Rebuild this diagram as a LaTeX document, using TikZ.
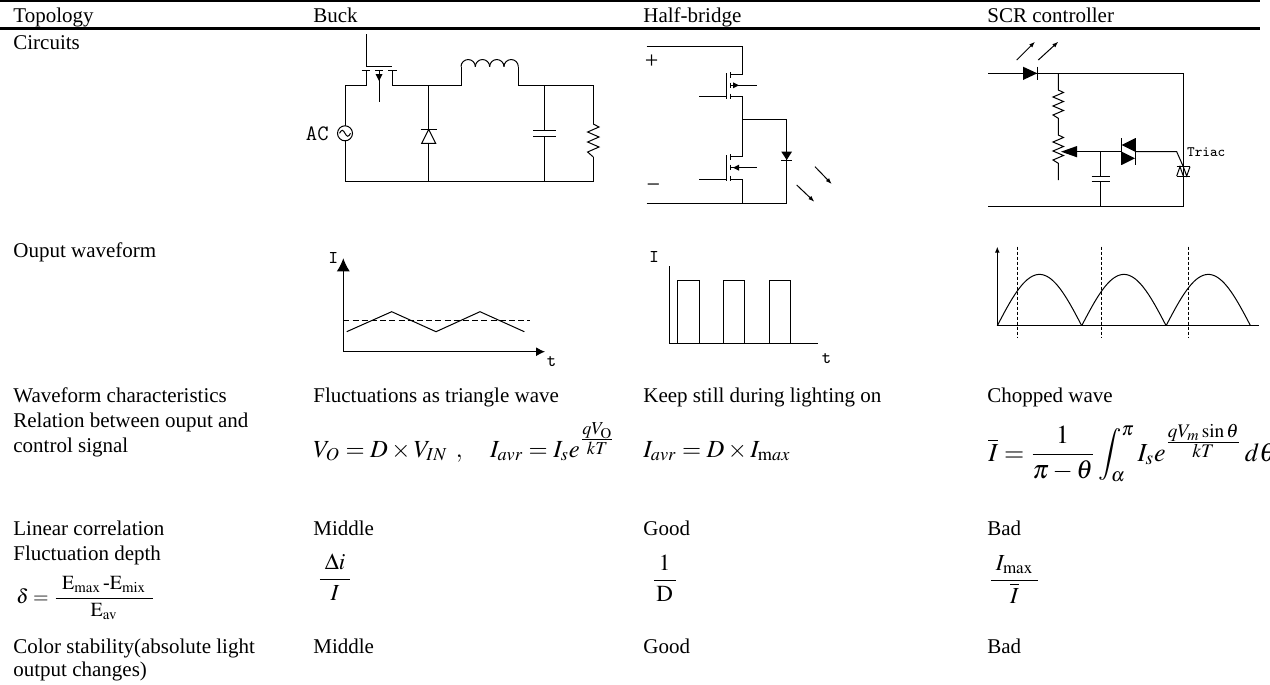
\documentclass[tikz,border=0pt]{standalone}
\usepackage{amsmath}
\usepackage{mathptmx}
\usepackage[no-math]{fontspec}
\setmainfont{Liberation Serif}
\usepackage{tikz}
\usetikzlibrary{arrows.meta}
\usetikzlibrary{calc}

\begin{document}
\begin{tikzpicture}[x=0.5pt, y=-0.5pt, every node/.style={inner sep=0pt},
    txt/.style={anchor=base west, font=\fontsize{10.5}{12}\selectfont},
    eq/.style={anchor=base west, font=\fontsize{12.3}{14}\selectfont},
    mono/.style={font=\ttfamily\fontsize{9}{10}\selectfont},
    wire/.style={line width=0.5pt},
    tip/.style={-{Latex[length=3pt,width=2.2pt]}, line width=0.5pt}]
            \useasboundingbox (0,0) rectangle (1270,685);

            \draw[line width=0.7pt] (0,1) -- (1260,1);
            \node[txt] (topo) at (13,23) {Topology};
            \node[txt] (hbuck) at (313,23) {Buck};
            \node[txt] (hhalf) at (643,23) {Half-bridge};
            \node[txt] (hscr) at (987,23) {SCR controller};
            \draw[line width=1.3pt] (0,28.5) -- (1260,28.5);

            \node[txt] (circ) at (13,49) {Circuits};
            \node[txt] (wave) at (13,257) {Ouput waveform};
            \node[txt] (wchar) at (13,402) {Waveform characteristics};
            \node[txt] (rel) at (13,427) {Relation between ouput and};
            \node[txt] (rel2) at (13,452) {control signal};
            \node[txt] (lin) at (13,535) {Linear correlation};
            \node[txt] (fdep) at (13,560) {Fluctuation depth};
            \node[anchor=base west, font=\fontsize{10}{12}\selectfont] (delta) at (16,603)
                {$\delta = \dfrac{\;\,\mathrm{E}_{\mathrm{max}}\,\text{-}\mathrm{E}_{\mathrm{mix}}\;\,}{\mathrm{E}_{\mathrm{av}}}$};
            \node[txt] (col) at (13,653) {Color stability(absolute light};
            \node[txt] (col2) at (13,676) {output changes)};

            \node[txt] (bwc) at (313,402) {Fluctuations as triangle wave};
            \node[eq] (bform) at (313,457) {$V_O = D\times V_{IN}\;\,,\quad I_{avr} = I_s e^{\genfrac{}{}{0.4pt}{1}{qV_{\mathrm{O}}}{kT}}$};
            \node[txt] (blin) at (313,535) {Middle};
            \node[anchor=base west, font=\fontsize{11.5}{13}\selectfont] (bdep) at (317,585) {$\dfrac{\;\Delta i\;}{I}$};
            \node[txt] (bcol) at (313,653) {Middle};

            \node[txt] (hwc) at (643,402) {Keep still during lighting on};
            \node[eq] (hform) at (643,457) {$I_{avr} = D\times I_{\mathrm{m}ax}$};
            \node[txt] (hlin) at (643,535) {Good};
            \node[anchor=base west, font=\fontsize{11.5}{13}\selectfont] (hdep) at (651,586) {$\dfrac{\;1\;}{\mathrm{D}}$};
            \node[txt] (hcol) at (643,653) {Good};

            \node[txt] (swc) at (987,402) {Chopped wave};
            \node[anchor=base west, font=\fontsize{13}{15}\selectfont] (sform) at (988,461)
                {$\overline{I} = \dfrac{1}{\pi-\theta}\displaystyle\int_{\alpha}^{\pi} I_s e^{\genfrac{}{}{0.4pt}{1}{qV_m\sin\theta}{kT}}\, d\theta$};
            \node[txt] (slin) at (987,535) {Bad};
            \node[anchor=base west, font=\fontsize{11.5}{13}\selectfont] (sdep) at (988,586) {$\dfrac{\;I_{\mathrm{max}}\;}{\overline{I}}$};
            \node[txt] (scol) at (987,653) {Bad};

            % buck
            \draw[wire] (366,34) -- (366,66.7) -- (392.3,66.7);
            \draw[wire] (361.7,70) -- (370,70) (375,70) -- (383,70) (388.3,70) -- (396.7,70);
            \draw[wire] (366,70) -- (366,85) -- (345,85) -- (345,181.7) -- (593.3,181.7) -- (593.3,157);
            \draw[wire] (379,70) -- (379,101.7);
            \fill (375.5,74) -- (382.5,74) -- (379,81) -- cycle;
            \draw[wire] (392.7,70) -- (392.7,85) -- (461,85) -- (461,66.7);
            \foreach \i in {0,...,3}
                \draw[wire] ({461+\i*14.33},66.7) arc (180:360:7.165);
            \draw[wire] (518.3,66.7) -- (518.3,85) -- (593.3,85) -- (593.3,124);
            \draw[wire] (593.3,124) -- (599,127) -- (587.6,132) -- (599,137) -- (587.6,142) -- (599,147) -- (587.6,152) -- (593.3,157);
            \draw[wire] (428.7,85) -- (428.7,181.7);
            \draw[wire, fill=white] (421.7,143.3) -- (435.7,143.3) -- (428.7,129.3) -- cycle;
            \draw[wire] (420.7,129.3) -- (436.7,129.3);
            \draw[wire] (544.3,85) -- (544.3,130) (533,130) -- (556,130) (533,136.7) -- (556,136.7) (544.3,136.7) -- (544.3,181.7);
            \draw[wire, fill=white] (345,133.3) circle[radius=7.5];
            \draw[wire] (339.5,133.3) sin (342.25,130.3) cos (345,133.3) sin (347.75,136.3) cos (350.5,133.3);
            \node[mono, font=\ttfamily\fontsize{11}{12}\selectfont, anchor=east] (ac) at (329,133.3) {AC};

            % half-bridge
            \draw[wire] (646.7,46) -- (742.3,46) -- (742.3,74.3) -- (730,74.3);
            \node[font=\fontsize{12}{12}\selectfont] (plus) at (651.7,61.7) {+};
            \draw[wire] (730,72) -- (730,77.5) (730,82.5) -- (730,88) (730,93.5) -- (730,99);
            \draw[wire] (726.7,73) -- (726.7,99);
            \draw[wire] (699,96.7) -- (726.7,96.7);
            \draw[wire] (730,85.3) -- (756.7,85.3);
            \fill (733,82.3) -- (733,88.3) -- (739,85.3) -- cycle;
            \draw[wire] (730,96.7) -- (742.3,96.7) -- (742.3,156.7) -- (730,156.7);
            \draw[wire] (730,154) -- (730,159.5) (730,164.5) -- (730,170) (730,175.5) -- (730,181);
            \draw[wire] (726.7,155) -- (726.7,181);
            \draw[wire] (699,179) -- (726.7,179);
            \draw[wire] (730,167.7) -- (756.7,167.7);
            \fill (733,167.7) -- (739,164.7) -- (739,170.7) -- cycle;
            \draw[wire] (730,179) -- (742.3,179) -- (742.3,203.3);
            \draw[wire] (646.7,203.3) -- (786.7,203.3) -- (786.7,119) -- (742.3,119);
            \fill (781.3,151.7) -- (792,151.7) -- (786.7,160) -- cycle;
            \draw[wire] (781.3,160) -- (792,160);
            \node[font=\fontsize{12}{12}\selectfont] (minus) at (653.3,188.3) {−};
            \draw[tip] (815,166.7) -- (831.7,184);
            \draw[tip] (796.7,185) -- (814.3,201.7);

            % scr controller
            \draw[wire] (988.3,73.3) -- (1183.3,73.3) -- (1183.3,206.7) -- (988.3,206.7);
            \fill (1023,66.7) -- (1023,80) -- (1037.3,73.3) -- cycle;
            \draw[wire] (1037.3,66.7) -- (1037.3,80);
            \draw[tip] (1016.7,60) -- (1035,41.7);
            \draw[tip] (1038.3,60) -- (1058.3,41.7);
            \draw[wire] (1058.3,73.3) -- (1058.3,90) -- (1063.5,92.5) -- (1053,97) -- (1063.5,101.5) -- (1053,106) -- (1063.5,110.5) -- (1053,115) -- (1058.3,118.3) -- (1058.3,135)
                -- (1063.5,137.5) -- (1053,142) -- (1063.5,146.5) -- (1053,151) -- (1063.5,155.5) -- (1053,160) -- (1058.3,163.3) -- (1058.3,180);
            \draw[wire] (1070,151.7) -- (1121.7,151.7);
            \fill (1061,151.7) -- (1077,146) -- (1077,157.3) -- cycle;
            \draw[wire] (1100.7,151.7) -- (1100.7,176.7) (1091.7,176.7) -- (1109.7,176.7) (1091.7,181) -- (1109.7,181) (1100.7,181) -- (1100.7,206.7);
            \draw[wire] (1121.7,138.3) -- (1121.7,165) (1135,138.3) -- (1135,165);
            \fill (1135,138.3) -- (1135,151.7) -- (1121.7,145) -- cycle;
            \fill (1121.7,151.7) -- (1121.7,165) -- (1135,158.3) -- cycle;
            \draw[wire] (1135,151.7) -- (1176.7,151.7) -- (1183.3,166.7);
            \draw[wire] (1176.7,166.7) -- (1190,166.7) (1176.7,176) -- (1190,176);
            \draw[wire] (1176.7,176) -- (1180,166.7) -- (1183.3,176) (1183.3,166.7) -- (1186.7,176) -- (1190,166.7);
            \node[mono, font=\ttfamily\fontsize{7.2}{8}\selectfont, anchor=west] (triac) at (1186.7,152.3) {Triac};

            % waveforms
            \draw[wire, -{Latex[length=6.5pt,width=6.5pt]}] (343.3,351.7) -- (343.3,258.3);
            \draw[wire, -{Latex[length=4.5pt,width=4.5pt]}] (343.3,351.7) -- (545,351.7);
            \node[mono] (bi) at (333.3,258.3) {I};
            \node[mono] (bt) at (551.7,361.7) {t};
            \draw[wire, dash pattern=on 3pt off 1.6pt] (343.3,320) -- (530,320);
            \draw[wire] (346.7,331.7) -- (391.7,311.7) -- (436,331.7) -- (480,311.7) -- (524.3,331.7);

            \draw[wire] (669.3,266) -- (669.3,343.3) -- (818.3,343.3);
            \node[mono] (hi) at (654,256.7) {I};
            \node[mono] (ht) at (826.7,358.3) {t};
            \foreach \a/\b in {677.7/699, 723.7/744.7, 769.3/790.3}
                \draw[wire] (\a,343.3) -- (\a,280) -- (\b,280) -- (\b,343.3);

            \draw[wire, -{Latex[length=3pt,width=2.4pt]}] (997.3,325.7) -- (997.3,246.7);
            \draw[wire] (997.3,325.7) -- (1259,325.7);
            \foreach \s in {0,1,2}
                \draw[wire] plot[domain=0:180, samples=40] ({997.3+\s*84.4+\x/180*84.4}, {325.7-51.3*sin(\x)});
            \foreach \d in {1017.7, 1101.7, 1188.3}
                \draw[wire, dash pattern=on 1.5pt off 1pt] (\d,246.7) -- (\d,338.3);
        \end{tikzpicture}
\end{document}
